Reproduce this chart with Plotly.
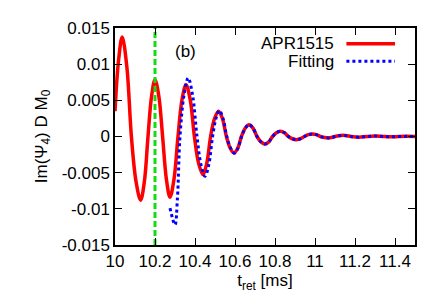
import plotly.graph_objects as go

# APR1515 waveform (t_ret [ms], Im(Psi4) D M0)
apr_t = [10.0, 10.018, 10.036, 10.059, 10.082, 10.105, 10.128, 10.147, 10.165, 10.183,
         10.2, 10.219, 10.238, 10.257, 10.275, 10.295, 10.315, 10.335, 10.355, 10.376,
         10.397, 10.418, 10.44, 10.459, 10.478, 10.498, 10.518, 10.537, 10.557, 10.576,
         10.595, 10.614, 10.632, 10.651, 10.67, 10.69, 10.71, 10.73, 10.75, 10.769,
         10.788, 10.807, 10.827, 10.847, 10.867, 10.887, 10.908, 10.927, 10.947, 10.967,
         10.987, 11.007, 11.027, 11.047, 11.067, 11.083, 11.10, 11.12, 11.14, 11.16,
         11.18, 11.22, 11.26, 11.30, 11.34, 11.38, 11.42, 11.46, 11.5]
apr_v = [0.0035, 0.0106, 0.01375, 0.0097, 0.0, -0.0062, -0.0088, -0.0062, 0.0, 0.0056,
         0.00785, 0.0056, 0.0, -0.0059, -0.0084, -0.0059, 0.0, 0.0051, 0.00716, 0.0051,
         0.0, -0.0037, -0.00527, -0.0037, 0.0, 0.0025, 0.0035, 0.0025, 0.0, -0.0016,
         -0.00228, -0.0016, 0.0, 0.00115, 0.00163, 0.00115, 0.0, -0.00074, -0.00104, -0.00074,
         0.0, 0.00051, 0.00072, 0.00051, 0.0, -0.00031, -0.00044, -0.00031, 0.0, 0.00025,
         0.00035, 0.00025, 0.0, -0.00014, -0.0002, -0.00014, 0.0, 0.00011, 0.00016, 0.00011,
         0.0, -0.0001, 0.0, 0.00006, 0.0, -0.00004, 0.0, 0.00002, 0.0]

# Fitting curve
fit_t = [10.275, 10.30, 10.312, 10.325, 10.345, 10.366, 10.388, 10.41, 10.43, 10.45,
         10.469, 10.488, 10.505, 10.522, 10.54, 10.559, 10.578, 10.597, 10.615, 10.633,
         10.652, 10.67, 10.69, 10.71, 10.73, 10.75, 10.769, 10.788, 10.807, 10.827,
         10.847, 10.867, 10.887, 10.908, 10.927, 10.947, 10.967, 10.987, 11.007, 11.027,
         11.047, 11.067, 11.083, 11.10, 11.12, 11.14, 11.16, 11.18, 11.22, 11.26,
         11.30, 11.34, 11.38, 11.42, 11.46, 11.5]
fit_v = [-0.0099, -0.0122, -0.0086, 0.0, 0.0057, 0.0081, 0.0057, 0.0, -0.0039, -0.0055,
         -0.0039, 0.0, 0.0025, 0.0036, 0.0025, 0.0, -0.0016, -0.0023, -0.0016, 0.0,
         0.00117, 0.00165, 0.00117, 0.0, -0.00074, -0.00105, -0.00074, 0.0, 0.00051, 0.00072,
         0.00051, 0.0, -0.00032, -0.00045, -0.00032, 0.0, 0.00025, 0.00035, 0.00025, 0.0,
         -0.00014, -0.0002, -0.00014, 0.0, 0.00011, 0.00016, 0.00011, 0.0, -0.0001, 0.0,
         0.00006, 0.0, -0.00004, 0.0, 0.00002, 0.0]

# vertical marker
marker_t = [10.2, 10.2]
marker_v = [-0.015, 0.015]

x_ticks = [10, 10.2, 10.4, 10.6, 10.8, 11, 11.2, 11.4]
x_tick_labels = ["10", "10.2", "10.4", "10.6", "10.8", "11", "11.2", "11.4"]
y_ticks = [-0.015, -0.01, -0.005, 0, 0.005, 0.01, 0.015]
y_tick_labels = ["-0.015", "-0.01", "-0.005", "0", "0.005", "0.01", "0.015"]

FONT = "Liberation Sans, Arial, sans-serif"
FS = 17

fig = go.Figure()
fig.add_trace(go.Scatter(x=apr_t, y=apr_v, mode="lines",
                         line=dict(color="#ff0000", width=3.5, shape="spline", smoothing=1.0),
                         showlegend=False))
fig.add_trace(go.Scatter(x=fit_t, y=fit_v, mode="lines",
                         line=dict(color="#0000ff", width=3, dash="dot", shape="spline", smoothing=1.0),
                         showlegend=False))
fig.add_trace(go.Scatter(x=marker_t, y=marker_v, mode="lines",
                         line=dict(color="#11dd11", width=3, dash="6px,3px"),
                         showlegend=False))

# manual legend (gnuplot style: text then sample)
fig.add_shape(type="line", xref="x", yref="y", x0=11.157, x1=11.4, y0=0.01282, y1=0.01282,
              line=dict(color="#ff0000", width=3.5))
fig.add_shape(type="line", xref="x", yref="y", x0=11.157, x1=11.4, y0=0.01039, y1=0.01039,
              line=dict(color="#0000ff", width=3, dash="dot"))
fig.add_annotation(x=11.105, y=0.01282, xref="x", yref="y", text="APR1515", showarrow=False,
                   xanchor="right", yanchor="middle", font=dict(family=FONT, size=FS, color="black"))
fig.add_annotation(x=11.105, y=0.01039, xref="x", yref="y", text="Fitting", showarrow=False,
                   xanchor="right", yanchor="middle", font=dict(family=FONT, size=FS, color="black"))
fig.add_annotation(x=10.35, y=0.0118, xref="x", yref="y", text="(b)", showarrow=False,
                   xanchor="center", yanchor="middle", font=dict(family=FONT, size=FS, color="black"))

axis_common = dict(showgrid=False, zeroline=False, showline=True, linecolor="black", linewidth=1.5,
                   mirror="ticks", ticks="inside", ticklen=7, tickwidth=1.2, tickcolor="black",
                   tickfont=dict(family=FONT, size=FS, color="black"))

fig.update_xaxes(range=[10, 11.5], tickvals=x_ticks, ticktext=x_tick_labels,
                 title=dict(text="t<sub>ret</sub> [ms]", font=dict(family=FONT, size=FS, color="black"),
                            standoff=3),
                 **axis_common)
fig.update_yaxes(range=[-0.015, 0.015], tickvals=y_ticks, ticktext=y_tick_labels,
                 title=dict(text="Im(Ψ<sub>4</sub>) D M<sub>0</sub>",
                            font=dict(family=FONT, size=FS, color="black"), standoff=10),
                 **axis_common)

fig.update_layout(width=436, height=305, margin=dict(l=107, r=29, t=20, b=68, autoexpand=False),
                  plot_bgcolor="white", paper_bgcolor="white", showlegend=False)

fig.write_html("out.html")
